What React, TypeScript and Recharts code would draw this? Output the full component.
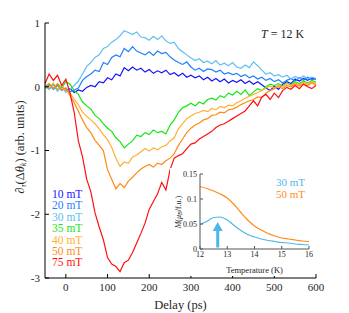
import React from "react";
import {
  LineChart,
  Line,
  XAxis,
  YAxis,
  ReferenceLine,
  ReferenceDot,
} from "recharts";

// delay axis (ps)
const DELAYS = [
  -50, -40, -30, -20, -10, 0, 10, 20, 30, 40, 50, 60, 70, 80, 90, 100, 110, 120, 130, 140, 150,
  160, 170, 180, 190, 200, 210, 220, 230, 240, 250, 260, 270, 280, 290, 300, 310, 320, 330, 340,
  350, 360, 370, 380, 390, 400, 410, 420, 430, 440, 450, 460, 470, 480, 490, 500, 510, 520, 530,
  540, 550, 560, 570, 580, 590, 600,
];

const S10 = [
  0.02, -0.03, 0.04, -0.05, 0.01, -0.06, -0.03, -0.09, -0.05, -0.07, -0.01, 0.02, 0.0, 0.08, 0.06,
  0.14, 0.11, 0.2, 0.17, 0.3, 0.25, 0.31, 0.26, 0.29, 0.23, 0.27, 0.21, 0.25, 0.22, 0.26, 0.19,
  0.22, 0.17, 0.21, 0.15, 0.18, 0.14, 0.17, 0.11, 0.15, 0.09, 0.13, 0.08, 0.12, 0.06, 0.1, 0.07,
  0.11, 0.05, 0.09, 0.04, 0.08, 0.03, -0.02, -0.06, 0.01, -0.04, 0.04, 0.08, 0.05, 0.12, 0.09,
  0.13, 0.1, 0.14, 0.12,
];
const S20 = [
  -0.02, 0.03, -0.04, 0.02, -0.06, -0.02, -0.08, -0.05, -0.02, 0.1, 0.16, 0.2, 0.26, 0.24, 0.38,
  0.35, 0.46, 0.5, 0.47, 0.6, 0.55, 0.63, 0.56, 0.53, 0.5, 0.55, 0.49, 0.56, 0.52, 0.54, 0.47,
  0.42, 0.38, 0.35, 0.39, 0.31, 0.26, 0.29, 0.24, 0.28, 0.27, 0.23, 0.26, 0.2, 0.22, 0.19, 0.21,
  0.16, 0.19, 0.14, 0.17, 0.12, 0.15, 0.1, 0.13, 0.08, 0.11, 0.06, 0.1, 0.13, 0.09, 0.14, 0.1,
  0.15, 0.11, 0.13,
];
const S30 = [
  0.0, -0.04, 0.03, -0.07, 0.01, -0.09, -0.04, 0.02, 0.09, 0.2, 0.32, 0.38, 0.46, 0.5, 0.6, 0.63,
  0.7, 0.74, 0.8, 0.88, 0.85, 0.82, 0.86, 0.78, 0.77, 0.73, 0.79, 0.74, 0.8, 0.72, 0.68, 0.7, 0.6,
  0.55, 0.5, 0.45, 0.41, 0.44, 0.38, 0.4, 0.36, 0.41, 0.34, 0.37, 0.33, 0.38, 0.31, 0.29, 0.34,
  0.3, 0.39, 0.33, 0.26, 0.2, 0.22, 0.17, 0.19, 0.15, 0.18, 0.12, 0.16, 0.13, 0.17, 0.12, 0.15,
  0.13,
];
const S35 = [
  -0.02, 0.04, -0.03, 0.05, -0.02, 0.08, 0.04, -0.06, -0.12, -0.24, -0.3, -0.35, -0.45, -0.5,
  -0.58, -0.65, -0.7, -0.8, -0.86, -0.96, -0.9, -0.85, -0.76, -0.78, -0.72, -0.75, -0.68, -0.72,
  -0.7, -0.74, -0.6, -0.52, -0.4, -0.33, -0.3, -0.26, -0.3, -0.24, -0.27, -0.2, -0.18, -0.21,
  -0.14, -0.17, -0.1, -0.13, -0.07, -0.12, -0.05, -0.14, -0.08, -0.03, -0.06, 0.0, 0.04, 0.02,
  0.05, 0.01, 0.06, 0.03, 0.08, 0.05, 0.09, 0.06, 0.1, 0.07,
];
const S40 = [
  0.03, -0.02, 0.06, -0.04, 0.02, -0.06, -0.1, -0.2, -0.28, -0.4, -0.46, -0.52, -0.58, -0.66,
  -0.75, -0.83, -0.95, -1.12, -1.25, -1.18, -1.2, -1.1, -1.07, -1.02, -0.97, -1.01, -0.96, -0.99,
  -0.94, -0.92, -0.85, -0.8, -0.66, -0.58, -0.5, -0.46, -0.42, -0.4, -0.37, -0.39, -0.34, -0.36,
  -0.31, -0.33, -0.29, -0.3, -0.25, -0.22, -0.18, -0.15, -0.12, -0.09, -0.06, -0.02, 0.01, -0.02,
  0.03, 0.0, 0.05, 0.02, 0.06, 0.03, 0.07, 0.04, 0.08, 0.05,
];
const S50 = [
  0.0, 0.05, -0.03, 0.04, -0.05, -0.02, -0.14, -0.25, -0.38, -0.52, -0.64, -0.72, -0.84, -0.92,
  -1.0, -1.3, -1.45, -1.6, -1.52, -1.58, -1.48, -1.42, -1.35, -1.29, -1.25, -1.22, -1.26, -1.2,
  -1.22, -1.16, -1.12, -1.05, -0.92, -0.82, -0.72, -0.65, -0.6, -0.57, -0.52, -0.5, -0.45, -0.44,
  -0.4, -0.41, -0.36, -0.35, -0.32, -0.28, -0.25, -0.22, -0.2, -0.16, -0.17, -0.1, -0.06, -0.03,
  0.0, -0.03, 0.02, 0.0, 0.04, 0.01, 0.05, 0.02, 0.06, 0.03,
];
const S75 = [
  0.05, 0.2, 0.1, 0.18, 0.02, 0.12, -0.1, -0.4, -0.85, -1.1, -1.45, -1.65, -1.98, -2.2, -2.4,
  -2.68, -2.78, -2.82, -2.9, -2.76, -2.72, -2.6, -2.45, -2.3, -2.14, -1.92, -1.8, -1.68, -1.5,
  -1.62, -1.3, -1.12, -1.08, -1.05, -0.97, -0.9, -0.88, -0.82, -0.78, -0.74, -0.7, -0.64, -0.6,
  -0.58, -0.54, -0.5, -0.46, -0.42, -0.38, -0.3, -0.22, -0.3, -0.16, -0.12, -0.2, -0.1, -0.17,
  -0.06, -0.01, -0.04, 0.02, -0.03, 0.04, 0.0, -0.03, 0.02,
];

const SERIES = [
  { key: "b10", name: "10 mT", color: "#1414ff", values: S10 },
  { key: "b20", name: "20 mT", color: "#1f80ff", values: S20 },
  { key: "b30", name: "30 mT", color: "#5cc0f2", values: S30 },
  { key: "b35", name: "35 mT", color: "#14e614", values: S35 },
  { key: "b40", name: "40 mT", color: "#ffb030", values: S40 },
  { key: "b50", name: "50 mT", color: "#ff8a14", values: S50 },
  { key: "b75", name: "75 mT", color: "#ff1010", values: S75 },
];

const X_TICKS = [0, 100, 200, 300, 400, 500, 600];
const Y_TICKS = [-3, -2, -1, 0, 1];

// inset: magnetisation vs temperature
const TEMPS = [12, 12.25, 12.5, 12.75, 13, 13.25, 13.5, 13.75, 14, 14.25, 14.5, 14.75, 15, 15.25, 15.5, 15.75, 16];
const M30 = [0.049, 0.055, 0.063, 0.064, 0.058, 0.047, 0.037, 0.029, 0.024, 0.02, 0.017, 0.015, 0.013, 0.012, 0.01, 0.009, 0.008];
const M50 = [0.125, 0.121, 0.116, 0.11, 0.102, 0.089, 0.073, 0.058, 0.046, 0.038, 0.031, 0.026, 0.022, 0.02, 0.018, 0.016, 0.015];
const T_TICKS = [12, 13, 14, 15, 16];
const M_TICKS = [0, 0.05, 0.1, 0.15];
const ARROW_T = 12.65;

const FONT = "'Liberation Serif', 'DejaVu Serif', serif";
const INK = "#262626";
const C30 = "#4db8e8";
const C50 = "#ff8c1a";

const mainData = DELAYS.map((t, i) => {
  const row: Record<string, number> = { t };
  SERIES.forEach((s) => (row[s.key] = s.values[i]));
  return row;
});

const insetData = TEMPS.map((T, i) => ({ T, m30: M30[i], m50: M50[i] }));

const blank = () => "";

const ArrowHead = (props: any) => {
  const { cx, cy } = props;
  if (cx == null || cy == null) return null;
  return <path d={`M${cx} ${cy} L${cx - 5} ${cy + 9} L${cx + 5} ${cy + 9} Z`} fill={C30} />;
};

export default function App() {
  return (
    <div style={{ position: "relative", width: 349, height: 313, background: "#fff" }}>
      <style>{"body{margin:0}"}</style>

      <LineChart
        width={349}
        height={313}
        data={mainData}
        margin={{ top: 23, right: 33, bottom: 0, left: 0 }}
        style={{ fontFamily: FONT }}
      >
        <XAxis
          dataKey="t"
          type="number"
          domain={[-50, 600]}
          ticks={X_TICKS}
          height={35}
          stroke="#000"
          tickSize={-4}
          tickMargin={9}
          tick={{ fill: INK, fontSize: 11 }}
          label={{ value: "Delay (ps)", position: "insideBottom", offset: 4, fill: INK, fontSize: 12.5 }}
        />
        <XAxis
          xAxisId="top"
          orientation="top"
          dataKey="t"
          type="number"
          domain={[-50, 600]}
          ticks={X_TICKS}
          height={0}
          stroke="#000"
          tickSize={-4}
          tickFormatter={blank}
        />
        <YAxis
          type="number"
          domain={[-3, 1]}
          ticks={Y_TICKS}
          width={45}
          stroke="#000"
          tickSize={-4}
          tickMargin={9}
          tick={{ fill: INK, fontSize: 11 }}
        />
        <YAxis
          yAxisId="right"
          orientation="right"
          type="number"
          domain={[-3, 1]}
          ticks={Y_TICKS}
          width={0}
          stroke="#000"
          tickSize={-4}
          tickFormatter={blank}
        />

        {SERIES.map((s) => (
          <Line
            key={s.key}
            dataKey={s.key}
            name={s.name}
            stroke={s.color}
            strokeWidth={1.2}
            dot={false}
            type="linear"
            isAnimationActive={false}
          />
        ))}

        {/* y axis title */}
        <text
          x={20}
          y={147}
          transform="rotate(-90 20 147)"
          textAnchor="middle"
          dominantBaseline="central"
          fill={INK}
          fontSize={12.5}
          fontFamily={FONT}
        >
          <tspan fontStyle="italic">∂</tspan>
          <tspan fontStyle="italic" fontSize={8} dy={3}>τ</tspan>
          <tspan dy={-3}>(Δ</tspan>
          <tspan fontStyle="italic">θ</tspan>
          <tspan fontStyle="italic" fontSize={8} dy={3}>k</tspan>
          <tspan dy={-3}>) (arb. units)</tspan>
        </text>
      </LineChart>

      {/* field legend */}
      <div
        style={{
          position: "absolute",
          left: 52,
          top: 189,
          fontFamily: FONT,
          fontSize: 11.5,
          lineHeight: "11.4px",
          whiteSpace: "nowrap",
        }}
      >
        {SERIES.map((s) => (
          <div key={s.key} style={{ color: s.color }}>
            {s.name}
          </div>
        ))}
      </div>

      <div
        style={{
          position: "absolute",
          left: 261,
          top: 27,
          fontFamily: FONT,
          fontSize: 12,
          color: INK,
          whiteSpace: "nowrap",
        }}
      >
        <i>T</i> = 12 K
      </div>

      {/* inset */}
      <div style={{ position: "absolute", left: 170, top: 168, width: 144, height: 108, background: "#fff" }}>
        <LineChart
          width={144}
          height={108}
          data={insetData}
          margin={{ top: 6, right: 5, bottom: 0, left: 0 }}
          style={{ fontFamily: FONT }}
        >
          <XAxis
            dataKey="T"
            type="number"
            domain={[12, 16]}
            ticks={T_TICKS}
            height={27}
            stroke="#555"
            tickSize={-3}
            tickMargin={5}
            tick={{ fill: INK, fontSize: 8 }}
            label={{ value: "Temperature (K)", position: "insideBottom", offset: 3, fill: INK, fontSize: 8.5 }}
          />
          <XAxis
            xAxisId="top"
            orientation="top"
            dataKey="T"
            type="number"
            domain={[12, 16]}
            ticks={T_TICKS}
            height={0}
            stroke="#555"
            tickSize={-3}
            tickFormatter={blank}
          />
          <YAxis
            type="number"
            domain={[0, 0.15]}
            ticks={M_TICKS}
            width={30}
            stroke="#555"
            tickSize={-3}
            tickMargin={6}
            tick={{ fill: INK, fontSize: 8 }}
          />
          <YAxis
            yAxisId="right"
            orientation="right"
            type="number"
            domain={[0, 0.15]}
            ticks={M_TICKS}
            width={0}
            stroke="#555"
            tickSize={-3}
            tickFormatter={blank}
          />
          <Line dataKey="m30" stroke={C30} strokeWidth={1.2} dot={false} type="monotone" isAnimationActive={false} />
          <Line dataKey="m50" stroke={C50} strokeWidth={1.2} dot={false} type="monotone" isAnimationActive={false} />
          <ReferenceLine
            segment={[
              { x: ARROW_T, y: 0.003 },
              { x: ARROW_T, y: 0.04 },
            ]}
            stroke={C30}
            strokeWidth={3}
          />
          <ReferenceDot x={ARROW_T} y={0.054} shape={ArrowHead} />
          <text
            x={8}
            y={44}
            transform="rotate(-90 8 44)"
            textAnchor="middle"
            dominantBaseline="central"
            fill={INK}
            fontSize={8}
            fontFamily={FONT}
          >
            <tspan fontStyle="italic">M</tspan>
            <tspan>(</tspan>
            <tspan fontStyle="italic">μ</tspan>
            <tspan fontStyle="italic" fontSize={6} dy={2}>B</tspan>
            <tspan dy={-2}>/f.u.)</tspan>
          </text>
        </LineChart>
        <div
          style={{
            position: "absolute",
            right: 9,
            top: 8,
            fontFamily: FONT,
            fontSize: 11,
            lineHeight: "12px",
            textAlign: "right",
            whiteSpace: "nowrap",
          }}
        >
          <div style={{ color: C30 }}>30 mT</div>
          <div style={{ color: C50 }}>50 mT</div>
        </div>
      </div>
    </div>
  );
}
